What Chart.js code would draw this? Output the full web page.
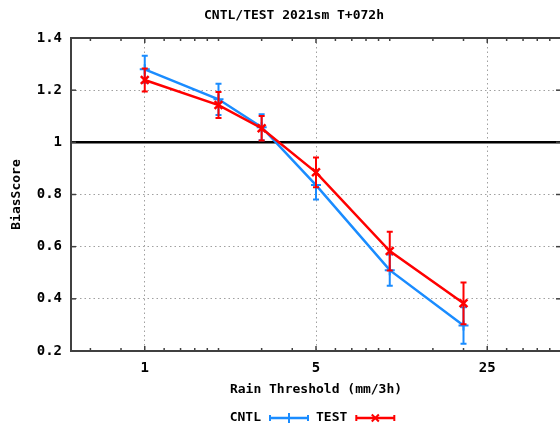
<!DOCTYPE html>
<html><head><meta charset="utf-8">
<script src="https://cdn.jsdelivr.net/npm/chart.js@4/dist/chart.umd.min.js"></script>
<style>html,body{margin:0;padding:0;overflow:hidden;background:#fff;width:560px;height:428px}canvas{display:block}</style>
</head><body><canvas id="c" width="588" height="428"></canvas>
<script>
const thresholds = [1, 2, 3, 5, 10, 20];
const cntlBias = [1.28, 1.165, 1.058, 0.836, 0.51, 0.298];
const cntlErr = [0.052, 0.06, 0.05, 0.055, 0.06, 0.07];
const testBias = [1.239, 1.143, 1.054, 0.885, 0.583, 0.383];
const testErr = [0.044, 0.05, 0.047, 0.057, 0.074, 0.08];
const xMajorTicks = [1, 5, 25];
const xMinorTicks = [0.6, 0.8, 1.2, 1.4, 1.6, 1.8, 2, 3, 4, 6, 7, 8, 9, 10, 15, 20, 30, 35, 40, 45];
const yTicks = [0.2, 0.4, 0.6, 0.8, 1, 1.2, 1.4];
const yTickLabels = ['0.2', '0.4', '0.6', '0.8', '1', '1.2', '1.4'];
const refLine = 1;
const titleText = 'CNTL/TEST 2021sm T+072h';
const xTitle = 'Rain Threshold (mm/3h)';
const yTitle = 'BiasScore';

const mono = "'DejaVu Sans Mono', 'Liberation Mono', monospace";
const BLUE = '#1a8cff', RED = '#ff0000';

const decorPlugin = {
  id: 'decor',
  beforeDatasetsDraw(chart) {
    const c = chart.ctx, a = chart.chartArea, ys = chart.scales.y;
    const py = ys.getPixelForValue(refLine);
    c.save();
    c.strokeStyle = '#000'; c.lineWidth = 2.5;
    c.beginPath(); c.moveTo(a.left, py); c.lineTo(a.right, py); c.stroke();
    c.restore();
  },
  afterDatasetDraw(chart, args) {
    const ds = chart.data.datasets[args.index];
    const c = chart.ctx, ys = chart.scales.y;
    c.save();
    c.strokeStyle = ds.borderColor; c.lineWidth = 2;
    args.meta.data.forEach((pt, i) => {
      const v = ds.data[i].y, e = ds.err[i];
      const t = ys.getPixelForValue(v + e), b = ys.getPixelForValue(v - e);
      c.beginPath();
      c.moveTo(pt.x, t); c.lineTo(pt.x, b);
      c.moveTo(pt.x - 3, t); c.lineTo(pt.x + 3, t);
      c.moveTo(pt.x - 3, b); c.lineTo(pt.x + 3, b);
      c.stroke();
    });
    c.restore();
  },
  afterDraw(chart) {
    const c = chart.ctx, a = chart.chartArea, xs = chart.scales.x, ys = chart.scales.y;
    c.save();
    c.strokeStyle = '#404040'; c.lineWidth = 1.5;
    const tick = (x1, y1, x2, y2) => { c.beginPath(); c.moveTo(x1, y1); c.lineTo(x2, y2); c.stroke(); };
    xMajorTicks.forEach(v => { const p = xs.getPixelForValue(v); tick(p, a.bottom, p, a.bottom - 5); tick(p, a.top, p, a.top + 5); });
    xMinorTicks.forEach(v => { const p = xs.getPixelForValue(v); tick(p, a.bottom, p, a.bottom - 3); tick(p, a.top, p, a.top + 3); });
    yTicks.forEach(v => { const p = ys.getPixelForValue(v); tick(a.left, p, a.left + 5, p); tick(a.right, p, a.right - 5, p); });
    c.lineWidth = 2;
    c.strokeRect(a.left, a.top, a.right - a.left, a.bottom - a.top);
    // legend
    c.font = 'bold 13px ' + mono;
    c.fillStyle = '#000'; c.textBaseline = 'middle'; c.textAlign = 'left';
    const ly = 418, sample = 38, gap1 = 9, gap2 = 8;
    const dss = chart.data.datasets;
    let total = 0;
    dss.forEach((d, i) => { total += c.measureText(d.label).width + gap1 + sample + (i < dss.length - 1 ? gap2 : 0); });
    let x = (a.left + a.right) / 2 - 4 - total / 2;
    dss.forEach(d => {
      c.fillStyle = '#000';
      c.fillText(d.label, x, ly);
      x += c.measureText(d.label).width + gap1;
      c.strokeStyle = d.borderColor; c.lineWidth = 2.5;
      c.beginPath(); c.moveTo(x, ly); c.lineTo(x + sample, ly); c.stroke();
      c.lineWidth = 2;
      c.beginPath(); c.moveTo(x, ly - 3); c.lineTo(x, ly + 3); c.moveTo(x + sample, ly - 3); c.lineTo(x + sample, ly + 3); c.stroke();
      Chart.helpers.drawPoint(c, { pointStyle: d.pointStyle, rotation: 0, radius: 5, borderWidth: 2.5 }, x + sample / 2, ly);
      x += sample + gap2;
    });
    c.restore();
  }
};

new Chart(document.getElementById('c'), {
  type: 'line',
  data: {
    datasets: [
      { label: 'CNTL', data: thresholds.map((x, i) => ({ x, y: cntlBias[i] })), err: cntlErr,
        borderColor: BLUE, backgroundColor: BLUE, borderWidth: 2.5, pointStyle: 'cross',
        pointRadius: 5, pointBorderWidth: 2, order: 1, tension: 0, fill: false },
      { label: 'TEST', data: thresholds.map((x, i) => ({ x, y: testBias[i] })), err: testErr,
        borderColor: RED, backgroundColor: RED, borderWidth: 2.5, pointStyle: 'crossRot',
        pointRadius: 5.5, pointBorderWidth: 2.5, order: 0, tension: 0, fill: false }
    ]
  },
  options: {
    responsive: false, animation: false,
    layout: { padding: { left: 0, right: 0, top: 0, bottom: 20 } },
    plugins: {
      legend: { display: false }, tooltip: { enabled: false },
      title: { display: true, text: titleText, color: '#000',
        font: { family: mono, size: 13, weight: 'bold' }, padding: { top: 8, bottom: 14.4 } }
    },
    scales: {
      x: {
        type: 'logarithmic', min: 0.5, max: 50,
        afterBuildTicks: s => { s.ticks = [...xMajorTicks, ...xMinorTicks].sort((p, q) => p - q).map(v => ({ value: v })); },
        ticks: { autoSkip: false, maxRotation: 0, padding: 9, color: '#000',
          font: { family: mono, size: 14, weight: 'bold' },
          callback: v => xMajorTicks.includes(v) ? String(v) : '' },
        grid: { drawTicks: false, lineWidth: 1,
          color: ctx => (ctx.tick && xMajorTicks.includes(ctx.tick.value)) ? '#a0a0a0' : 'rgba(0,0,0,0)' },
        border: { display: false, dash: [1.5, 3] },
        title: { display: true, text: xTitle, color: '#000', font: { family: mono, size: 13, weight: 'bold' }, padding: { top: 6, bottom: 11 } },
        afterFit: s => { s.height = 57; s.paddingLeft = 0; s.paddingRight = 27; }
      },
      y: {
        type: 'linear', min: 0.2, max: 1.4,
        afterBuildTicks: s => { s.ticks = yTicks.map(v => ({ value: v })); },
        ticks: { autoSkip: false, padding: 9, color: '#000',
          font: { family: mono, size: 14, weight: 'bold' },
          callback: (v, i) => yTickLabels[yTicks.indexOf(v)] },
        grid: { drawTicks: false, lineWidth: 1,
          color: ctx => (ctx.tick && [0.4, 0.6, 0.8, 1.2].includes(ctx.tick.value)) ? '#a0a0a0' : 'rgba(0,0,0,0)' },
        border: { display: false, dash: [1.5, 3] },
        title: { display: true, text: yTitle, color: '#000', font: { family: mono, size: 13, weight: 'bold' }, padding: { top: 9, bottom: 0 } },
        afterFit: s => { s.width = 71; s.paddingTop = 0; s.paddingBottom = 0; }
      }
    }
  },
  plugins: [decorPlugin]
});
</script></body></html>
